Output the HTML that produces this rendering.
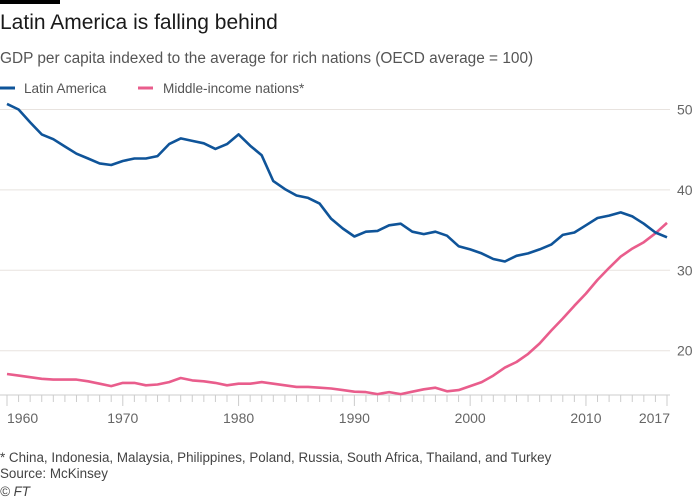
<!DOCTYPE html>
<html><head><meta charset="utf-8"><style>
body{margin:0;background:#fff;width:700px;height:500px;overflow:hidden;font-family:"Liberation Sans",sans-serif}
svg{position:absolute;left:0;top:0}
</style></head><body>
<svg width="700" height="500">
<rect x="0" y="0" width="60" height="4" fill="#000"/>
<text x="0" y="29" font-size="21" fill="#1a1a1a">Latin America is falling behind</text>
<text x="0" y="63" font-size="15.4" fill="#555">GDP per capita indexed to the average for rich nations (OECD average = 100)</text>
<g>
<line x1="0" y1="88" x2="15" y2="88" stroke="#0f5499" stroke-width="3"/>
<text x="24" y="93" font-size="13.6" fill="#555">Latin America</text>
<line x1="138" y1="88" x2="153" y2="88" stroke="#e95d8c" stroke-width="3"/>
<text x="163" y="93" font-size="13.6" fill="#555">Middle-income nations*</text>
</g>
<g id="grid"></g>
<g id="axis"></g>
<g id="series"></g>
<text x="0" y="462" font-size="13.4" fill="#444">* China, Indonesia, Malaysia, Philippines, Poland, Russia, South Africa, Thailand, and Turkey</text>
<text x="0" y="478" font-size="13.4" fill="#444">Source: McKinsey</text>
<text x="0" y="496" font-size="13.4" fill="#444" font-style="italic">© FT</text>
</svg>
<script>
const years=[];for(let y=1960;y<=2017;y++)years.push(y);
const latinAmerica=[50.7,50.0,48.4,46.9,46.3,45.4,44.5,43.9,43.3,43.1,43.6,43.9,43.9,44.2,45.7,46.4,46.1,45.8,45.1,45.7,46.9,45.5,44.3,41.1,40.1,39.3,39.0,38.3,36.4,35.2,34.2,34.8,34.9,35.6,35.8,34.8,34.5,34.8,34.3,33.0,32.6,32.1,31.4,31.1,31.8,32.1,32.6,33.2,34.4,34.7,35.6,36.5,36.8,37.2,36.7,35.8,34.7,34.1];
const middleIncome=[17.1,16.9,16.7,16.5,16.4,16.4,16.4,16.2,15.9,15.6,16.0,16.0,15.7,15.8,16.1,16.6,16.3,16.2,16.0,15.7,15.9,15.9,16.1,15.9,15.7,15.5,15.5,15.4,15.3,15.1,14.9,14.85,14.6,14.85,14.6,14.9,15.2,15.4,14.95,15.1,15.6,16.1,16.9,17.9,18.6,19.6,20.9,22.5,24.0,25.6,27.1,28.8,30.3,31.7,32.7,33.5,34.6,35.9];
const yTicks=[20,30,40,50];
const xLabels=[1960,1970,1980,1990,2000,2010,2017];
const NS="http://www.w3.org/2000/svg";
const x=yr=>7+(yr-1960)*(660/57);
const y=v=>109.5+(50-v)*8.04;
function mk(tag,attrs,parent){const e=document.createElementNS(NS,tag);for(const k in attrs)e.setAttribute(k,attrs[k]);parent.appendChild(e);return e;}
const grid=document.getElementById('grid'),axis=document.getElementById('axis'),series=document.getElementById('series');
yTicks.forEach(t=>{
 const l=mk('line',{x1:0,x2:670,y1:y(t),y2:y(t),stroke:'#e8e3df','stroke-width':1},grid);
 
 
 const tx=mk('text',{x:677,y:y(t)+5,'font-size':14,fill:'#666'},grid);
 tx.textContent=t;
 
 
});
const base=mk('line',{x1:0,x2:670,y1:395,y2:395,stroke:'#ccc','stroke-width':1},axis);


years.forEach(yr=>{
 const big=yr%10===0||yr===2017;
 const t=mk('line',{x1:x(yr),x2:x(yr),y1:395,y2:big?406:402,stroke:'#ccc','stroke-width':1},axis);
 
 
});
xLabels.forEach(yr=>{
 const anchor=yr===1960?'start':(yr===2017?'end':'middle');
 const tx=mk('text',{x:yr===1960?x(yr)+0:(yr===2017?x(yr)+3:x(yr)),y:423,'font-size':14,fill:'#666','text-anchor':anchor},axis);
 tx.textContent=yr;
 
 
});
function line(vals,color,name){
 const d=vals.map((v,i)=>(i?'L':'M')+x(years[i]).toFixed(1)+','+y(v).toFixed(1)).join(' ');
 const p=mk('path',{d:d,fill:'none',stroke:color,'stroke-width':2.6,'stroke-linejoin':'round'},series);
 
 
}
line(middleIncome,'#e95d8c','line-middle-income');
line(latinAmerica,'#0f5499','line-latin-america');
</script>
</body></html>
